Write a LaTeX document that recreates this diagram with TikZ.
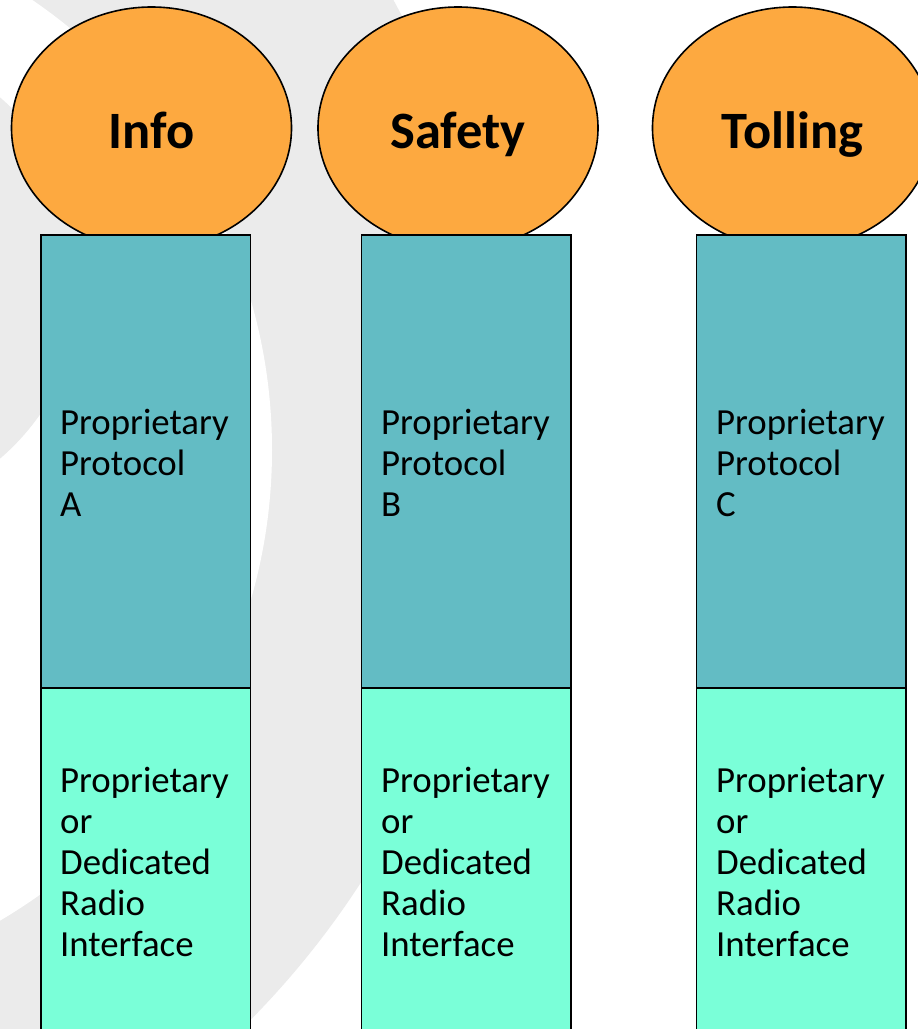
\documentclass[tikz,border=0pt]{standalone}
\usepackage{fontspec}
\setmainfont{Carlito}
\usetikzlibrary{shapes.geometric}
\definecolor{bgray}{RGB}{235,235,235}
\definecolor{orangeF}{RGB}{253,169,64}
\definecolor{tealF}{RGB}{99,188,196}
\definecolor{aquaF}{RGB}{122,255,216}
\begin{document}
\begin{tikzpicture}[x=1pt,y=-1pt,
  bubble/.style={ellipse, draw=black, line width=1.6pt, fill=orangeF,
    minimum width=280pt, minimum height=242pt, inner sep=0pt},
  bubbletext/.style={font=\fontsize{52.5}{60}\selectfont\bfseries, anchor=base, inner sep=0pt},
  protobox/.style={rectangle, draw=black, line width=1.9pt, fill=tealF, anchor=north west,
    minimum width=209.5pt, minimum height=453pt, inner sep=0pt},
  radiobox/.style={rectangle, draw=black, line width=1.9pt, fill=aquaF, anchor=north west,
    minimum width=209.5pt, minimum height=360pt, inner sep=0pt},
  boxtext/.style={anchor=base west, inner sep=0pt, font=\fontsize{36.8}{41}\selectfont}
]
\useasboundingbox (0,0) rectangle (918,1029);
\begin{scope}
  \clip (0,0) rectangle (918,1029);
  \fill[white] (0,0) rectangle (918,1029);
  \fill[bgray] (-364,414) circle[radius=863pt];
  \fill[white] (-292,450) ellipse[x radius=564pt, y radius=550pt];
  \fill[bgray] (-155,278) circle[radius=238pt];
\end{scope}

% bubbles
\node[bubble] (einfo) at (151.5,128) {};
\node[bubble] (esafety) at (458,128) {};
\node[bubble] (etolling) at (792.5,128) {};
\node[bubbletext] (linfo) at (151.5,148) {Info};
\node[bubbletext] (lsafety) at (458,148) {Safety};
\node[bubbletext] (ltolling) at (792.5,148) {Tolling};

% protocol boxes
\node[protobox] (pa) at (40,234) {};
\node[protobox] (pb) at (360.5,234) {};
\node[protobox] (pc) at (695.5,234) {};
% radio boxes
\node[radiobox] (ra) at (40,687) {};
\node[radiobox] (rb) at (360.5,687) {};
\node[radiobox] (rc) at (695.5,687) {};

% texts
\node[boxtext] (tpa) at (60,434) {\vtop{\hbox{Proprietary}\hbox{Protocol}\hbox{A}}};
\node[boxtext] (tpb) at (381,434) {\vtop{\hbox{Proprietary}\hbox{Protocol}\hbox{B}}};
\node[boxtext] (tpc) at (716,434) {\vtop{\hbox{Proprietary}\hbox{Protocol}\hbox{C}}};
\node[boxtext] (tra) at (60,792) {\vtop{\hbox{Proprietary}\hbox{or}\hbox{Dedicated}\hbox{Radio}\hbox{Interface}}};
\node[boxtext] (trb) at (381,792) {\vtop{\hbox{Proprietary}\hbox{or}\hbox{Dedicated}\hbox{Radio}\hbox{Interface}}};
\node[boxtext] (trc) at (716,792) {\vtop{\hbox{Proprietary}\hbox{or}\hbox{Dedicated}\hbox{Radio}\hbox{Interface}}};
\end{tikzpicture}
\end{document}
